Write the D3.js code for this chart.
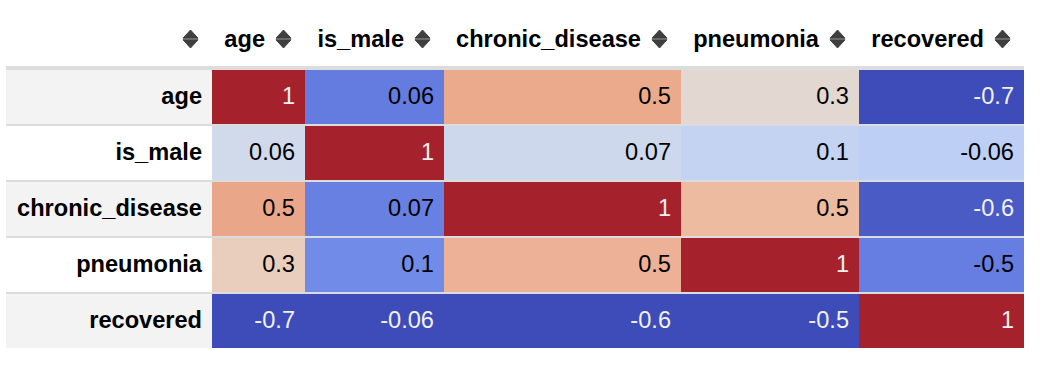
<!DOCTYPE html>
<html>
<head>
<meta charset="utf-8">
<script src="https://cdn.jsdelivr.net/npm/d3@7"></script>
<style>
  html, body { margin: 0; padding: 0; background: #fff; }
  svg { display: block; }
  text { font-family: "Liberation Sans", Arial, Helvetica, sans-serif; }
</style>
</head>
<body>
<svg id="chart" width="1056" height="374"></svg>
<script>
// ---- data ----
const columns = ["age", "is_male", "chronic_disease", "pneumonia", "recovered"];
const rows = ["age", "is_male", "chronic_disease", "pneumonia", "recovered"];
const age = [1, 0.06, 0.54, 0.30, -0.70];
const is_male = [0.06, 1, 0.07, 0.10, -0.06];
const chronic_disease = [0.54, 0.07, 1, 0.50, -0.64];
const pneumonia = [0.30, 0.10, 0.50, 1, -0.50];
const recovered = [-0.70, -0.06, -0.64, -0.50, 1];
const seriesByColumn = { age, is_male, chronic_disease, pneumonia, recovered };

// ---- coolwarm colormap (Moreland diverging table) ----
const coolwarmStops = [
  [59,76,192],[68,90,204],[77,104,215],[87,117,225],[98,130,234],[108,142,241],
  [119,154,247],[130,165,251],[141,176,254],[152,185,255],[163,194,255],[174,201,253],
  [184,208,249],[194,213,244],[204,217,238],[213,219,230],[221,221,221],[229,216,209],
  [236,211,197],[241,204,185],[245,196,173],[247,187,160],[247,177,148],[247,166,135],
  [244,154,123],[241,141,111],[236,127,99],[229,112,88],[222,96,77],[213,80,66],
  [203,62,56],[192,40,47],[180,4,38]
];
const cwScale = d3.scaleLinear()
  .domain(coolwarmStops.map((_, i) => i / (coolwarmStops.length - 1)))
  .range(coolwarmStops.map(c => d3.rgb(c[0], c[1], c[2])))
  .interpolate(d3.interpolateRgb)
  .clamp(true);

// appearance of sRGB colour as captured in a Display-P3 screenshot
function lin(c) { c /= 255; return c <= 0.04045 ? c / 12.92 : Math.pow((c + 0.055) / 1.055, 2.4); }
function enc(c) { c = Math.max(0, Math.min(1, c)); return 255 * (c <= 0.0031308 ? 12.92 * c : 1.055 * Math.pow(c, 1 / 2.4) - 0.055); }
function toDisplay(col) {
  const r = lin(col.r), g = lin(col.g), b = lin(col.b);
  const R = 0.8225 * r + 0.1774 * g;
  const G = 0.0332 * r + 0.9669 * g;
  const B = 0.0171 * r + 0.0724 * g + 0.9108 * b;
  return d3.rgb(enc(R), enc(G), enc(B)).formatHex();
}
// pandas (old) text contrast rule
function luminance(col) {
  const f = x => x <= 0.03928 ? x / 12.92 : (x + 0.055) / Math.pow(1.055, 2.4);
  return 0.2126 * f(col.r / 255) + 0.7152 * f(col.g / 255) + 0.0722 * f(col.b / 255);
}

const fmt = d3.formatLocale({ decimal: ".", thousands: ",", grouping: [3], currency: ["", ""], minus: "-" }).format(".1g");

// ---- layout ----
const svg = d3.select("#chart");
const FS = 23.6;
const left = 6;
const headerBaseline = 47;
const pad = 10;

// measure text to size columns like an auto-layout table
const meas = svg.append("g").attr("opacity", 0);
function textWidth(s, bold) {
  const t = meas.append("text").attr("font-size", FS).attr("font-weight", bold ? "bold" : "normal").text(s);
  const w = t.node().getComputedTextLength();
  t.remove();
  return w;
}
const indexWidth = Math.round(d3.max(rows, r => textWidth(r, true)) + 21);
const colWidths = columns.map(c => Math.round(textWidth(c, true) + 52.4));
const colStarts = [];
let acc = left + indexWidth;
colWidths.forEach(w => { colStarts.push(acc); acc += w; });
const tableRight = acc;

const xStart = d3.scaleOrdinal().domain(columns).range(colStarts);
const xWidth = d3.scaleOrdinal().domain(columns).range(colWidths);

const y = d3.scaleBand().domain(rows).range([69, 349]).paddingInner(2 / 56).paddingOuter(1 / 56);

// separator background (lines between rows)
svg.append("rect")
  .attr("x", left).attr("y", 66)
  .attr("width", tableRight - left).attr("height", y(rows[rows.length - 1]) + y.bandwidth() - 66)
  .attr("fill", "#dcdcdc");

// index cells
svg.append("g").selectAll("rect").data(rows).join("rect")
  .attr("x", left).attr("y", d => y(d))
  .attr("width", indexWidth).attr("height", y.bandwidth())
  .attr("fill", (d, i) => i % 2 === 0 ? "#f3f3f3" : "#ffffff");
svg.append("g").selectAll("text").data(rows).join("text")
  .attr("x", left + indexWidth - pad).attr("y", d => y(d) + 34)
  .attr("text-anchor", "end").attr("font-size", FS).attr("font-weight", "bold")
  .attr("fill", "#000").text(d => d);

// data cells
const cells = [];
columns.forEach(c => {
  const vals = seriesByColumn[c];
  const mn = d3.min(vals), mx = d3.max(vals);
  const norm = d3.scaleLinear().domain([mn, mx]).range([0, 1]);
  vals.forEach((v, i) => {
    const base = d3.rgb(cwScale(norm(v)));
    cells.push({ col: c, row: rows[i], v, fill: toDisplay(base), dark: luminance(base) < 0.408 });
  });
});
const cellG = svg.append("g").attr("shape-rendering", "crispEdges");
cellG.selectAll("rect").data(cells).join("rect")
  .attr("x", d => xStart(d.col)).attr("y", d => y(d.row))
  .attr("width", d => xWidth(d.col)).attr("height", y.bandwidth())
  .attr("fill", d => d.fill);
const textG = svg.append("g");
textG.selectAll("text").data(cells).join("text")
  .attr("x", d => xStart(d.col) + xWidth(d.col) - pad).attr("y", d => y(d.row) + 34)
  .attr("text-anchor", "end").attr("font-size", FS)
  .attr("fill", d => d.dark ? "#f1f1f1" : "#000000")
  .text(d => fmt(d.v));

// header
function sortIcon(g, rightX) {
  const l = rightX - 15, w = 15, mid = l + w / 2;
  g.append("path")
    .attr("d", `M${l},38.2 L${mid},30 L${l + w},38.2 Z M${l},39.8 L${mid},48 L${l + w},39.8 Z`)
    .attr("fill", "#3f3f3f").attr("stroke", "#3f3f3f").attr("stroke-width", 1).attr("stroke-linejoin", "round");
}
const head = svg.append("g");
sortIcon(head, left + indexWidth - 14);
columns.forEach(c => {
  const right = xStart(c) + xWidth(c) - 14;
  sortIcon(head, right);
  head.append("text")
    .attr("x", right - 15 - 11).attr("y", headerBaseline)
    .attr("text-anchor", "end").attr("font-size", FS).attr("font-weight", "bold")
    .attr("fill", "#000").text(c);
});
meas.remove();
</script>
</body>
</html>
